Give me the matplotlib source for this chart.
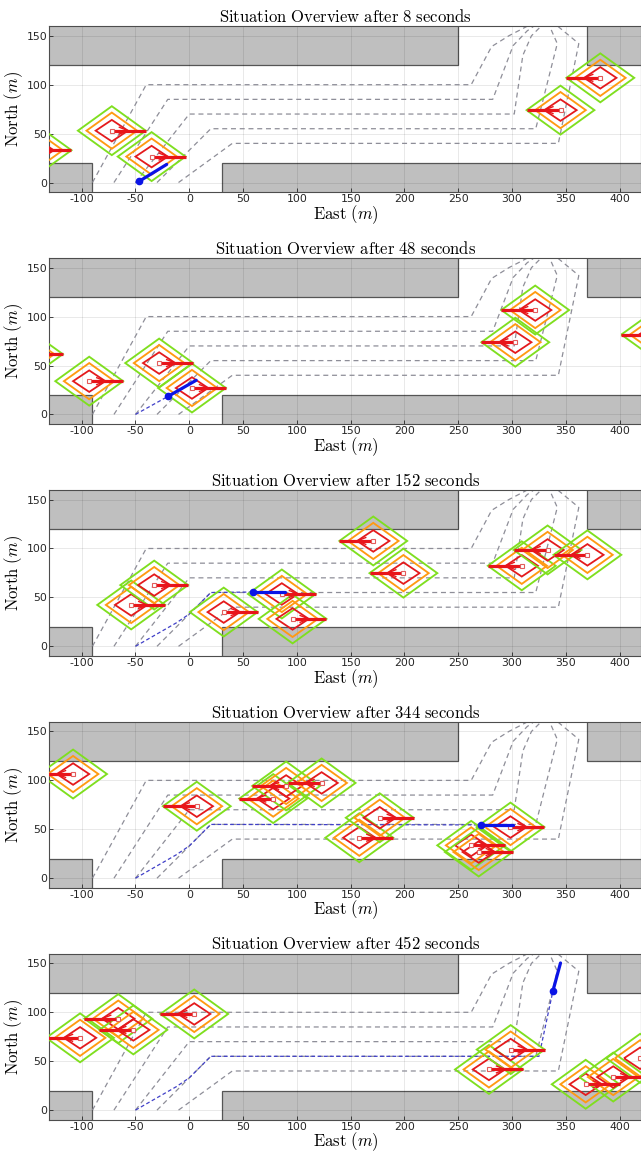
import matplotlib
matplotlib.use("Agg")
import matplotlib.pyplot as plt
from matplotlib.patches import Rectangle, Polygon
import numpy as np

plt.rcParams['mathtext.fontset'] = 'cm'
plt.rcParams['axes.unicode_minus'] = False
plt.rcParams['font.family'] = ['DejaVu Sans']

# ---------------- data ----------------
TIMES = [8, 48, 152, 344, 452]

# obstacle blocks (east_min, east_max, north_min, north_max)
BLOCK_E0 = [-1000, 370, -1000, 30]
BLOCK_E1 = [250, 1000, -90, 1000]
BLOCK_N0 = [120, 120, -1000, -1000]
BLOCK_N1 = [1000, 1000, 20, 20]

# lanes (dashed)
LANE_E = [
    [-90, -40, 262, 281, 297, 318],
    [-70, -20, 282, 301, 314, 323],
    [-50, 0, 302, 310, 318, 329],
    [-30, 20, 322, 342, 334],
    [-10, 40, 343, 362, 340],
]
LANE_N = [
    [0, 100, 100, 139, 150, 162],
    [0, 85, 85, 140, 155, 162],
    [0, 70, 70, 130, 150, 162],
    [0, 55, 55, 142, 162],
    [0, 40, 40, 142, 162],
]

# other vehicles per snapshot: east, north, heading direction (+1 east, -1 west)
VEH_E = [
    [-141, -72, -35, 345, 382],
    [-149, -93, -28, 2.5, 321.5, 303, 433],
    [-54, -32.6, 32, 86, 96, 171, 199, 309, 333, 370],
    [-108, 7, 78, 90, 123, 158, 177, 262, 269, 298.5],
    [-101.5, -66, -52, 4.6, 278.5, 298.7, 368.4, 394, 419],
]
VEH_N = [
    [33, 53, 26.5, 74, 107],
    [61.6, 34, 52.5, 27, 106.7, 73.8, 81.6],
    [42.3, 62.6, 35, 53.5, 28, 107.7, 74.8, 82.3, 98.5, 93.5],
    [106.5, 73.6, 81.4, 94.3, 97.4, 41.4, 61.8, 33.6, 26.8, 52.3],
    [73.9, 93.5, 82, 98.3, 41.6, 61.9, 26.4, 33.8, 53],
]
VEH_DIR = [
    [1, 1, 1, -1, -1],
    [1, 1, 1, 1, -1, -1, -1],
    [1, 1, 1, 1, 1, -1, -1, -1, -1, -1],
    [-1, -1, -1, -1, -1, 1, 1, 1, 1, 1],
    [-1, -1, -1, -1, 1, 1, 1, 1, 1],
]

# own vehicle route and per-snapshot state
OWN_ROUTE_E = [-50, -12, 0, 20, 325]
OWN_ROUTE_N = [0, 24, 33, 55, 55]
OWN_PASSED = [1, 1, 4, 4, 5]
OWN_E = [-46.5, -19.5, 59, 271, 338]
OWN_N = [1.3, 18.6, 55.5, 54.5, 122]
OWN_HEAD_E = [-21, 6.4, 88.5, 301, 345]
OWN_HEAD_N = [18.5, 34.9, 55.5, 54.5, 150.4]

# safety zone half sizes (east, north)
ZONE_HALF_E = [15, 23.5, 31.5]
ZONE_HALF_N = [11, 18.5, 25]
ZONE_COLORS = ['#e41a1c', '#ff9a12', '#7fdf1f']
ZONE_LW = [1.3, 1.35, 1.35]

XTICKS = [-100, -50, 0, 50, 100, 150, 200, 250, 300, 350, 400]
YTICKS = [0, 50, 100, 150]

# ---------------- figure ----------------
W, H = 641, 1151
fig = plt.figure(figsize=(W / 100, H / 100), dpi=100)

left_px, right_px = 49.4, 641.2
for k, t in enumerate(TIMES):
    top_px = 26 + 231.9 * k
    bot_px = 192.3 + 231.9 * k
    ax = fig.add_axes([left_px / W, 1 - bot_px / H, (right_px - left_px) / W, (bot_px - top_px) / H])
    ax.set_xlim(-130, 420)
    ax.set_ylim(-10, 160)

    for e0, e1, n0, n1 in zip(BLOCK_E0, BLOCK_E1, BLOCK_N0, BLOCK_N1):
        ax.add_patch(Rectangle((e0, n0), e1 - e0, n1 - n0, facecolor='#bfbfbf',
                               edgecolor='#555555', lw=0.9, zorder=1))

    for le, ln in zip(LANE_E, LANE_N):
        ax.plot(le, ln, color='#8e8e98', lw=0.9, ls=(0, (4, 3)), zorder=2)

    # own history
    he = OWN_ROUTE_E[:OWN_PASSED[k]] + [OWN_E[k]]
    hn = OWN_ROUTE_N[:OWN_PASSED[k]] + [OWN_N[k]]
    ax.plot(he, hn, color='#4040c8', lw=0.9, ls=(0, (3, 2)), zorder=2.2)

    # other vehicles
    for e, n, d in zip(VEH_E[k], VEH_N[k], VEH_DIR[k]):
        for hx, hy, c, lw in zip(ZONE_HALF_E[::-1], ZONE_HALF_N[::-1], ZONE_COLORS[::-1], ZONE_LW[::-1]):
            ax.add_patch(Polygon([[e - hx, n], [e, n + hy], [e + hx, n], [e, n - hy]], closed=True,
                                 fill=False, edgecolor=c, lw=lw, zorder=3))
        ax.plot([e, e + d * ZONE_HALF_E[2]], [n, n], color='#e8141a', lw=2.3, zorder=4,
                solid_capstyle='butt')
        tip = e + d * ZONE_HALF_E[0]
        ax.plot([tip - d * 8, tip, tip - d * 8], [n + 3.5, n, n - 3.5], color='#e8141a', lw=1.0, zorder=4)
        ax.plot([e], [n], marker='s', ms=3.2, mfc='white', mec='#e35c5c', mew=0.8, zorder=5)

    # own vehicle
    ax.plot([OWN_E[k], OWN_HEAD_E[k]], [OWN_N[k], OWN_HEAD_N[k]], color='#0a14e6', lw=2.3, zorder=6,
            solid_capstyle='round')
    ax.plot([OWN_E[k]], [OWN_N[k]], marker='o', ms=4.5, color='#0a14e6', zorder=6)

    ax.set_xticks(XTICKS)
    ax.set_yticks(YTICKS)
    ax.set_xticklabels([str(v) for v in XTICKS])
    ax.set_yticklabels([str(v) for v in YTICKS])
    ax.tick_params(direction='in', length=3, width=0.6, labelsize=7.8, colors='#262626', pad=1.5)
    ax.grid(True, color='black', alpha=0.1, lw=0.6)
    ax.set_axisbelow('line')
    for s in ax.spines.values():
        s.set_color('#4d4d4d')
        s.set_linewidth(0.8)

    ax.set_title(r'$\mathrm{Situation\ Overview\ after\ %d\ seconds}$' % t, fontsize=12, pad=3)
    ax.set_xlabel(r'$\mathrm{East}\ (m)$', fontsize=12, labelpad=-1)
    ax.set_ylabel(r'$\mathrm{North}\ (m)$', fontsize=12, labelpad=1)

fig.savefig('out.png', dpi=100)
